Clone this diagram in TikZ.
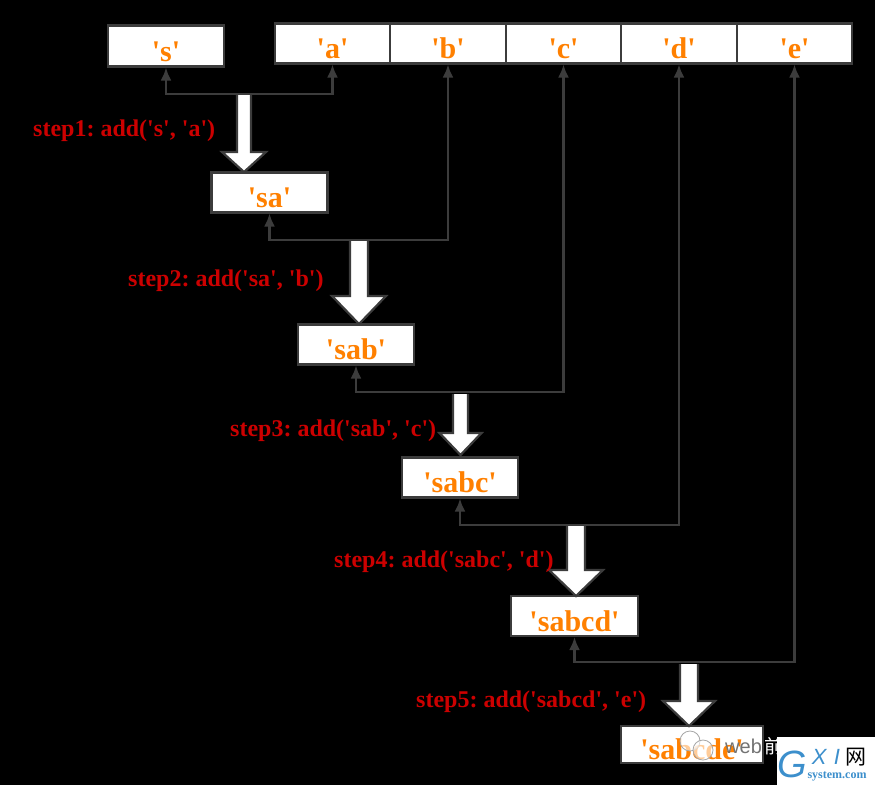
\documentclass[tikz,border=0pt]{standalone}
\usepackage{fontspec}
\usetikzlibrary{arrows.meta}
\newfontfamily\boxfont{Liberation Serif}
\newfontfamily\markfont{Liberation Sans}
\newfontfamily\cjk{Noto Sans CJK SC}
\definecolor{boxorange}{HTML}{FF8000}
\definecolor{stepred}{HTML}{CC0000}
\definecolor{linegray}{HTML}{3C3C3C}
\definecolor{logoblue}{HTML}{3C8FCC}
\tikzset{
  strbox/.style={draw=linegray,line width=2.2pt,fill=white,text=boxorange,inner sep=0pt,
    text height=32pt,text depth=2pt,
    font=\boxfont\bfseries\fontsize{30}{30}\selectfont},
  steplabel/.style={text=stepred,inner sep=0pt,anchor=west,
    font=\boxfont\bfseries\frenchspacing\fontsize{24}{24}\selectfont},
  link/.style={draw=linegray,line width=2.2pt,-{Latex[length=13pt,width=11pt]}},
  twolink/.style={link,{Latex[length=13pt,width=11pt]}-{Latex[length=13pt,width=11pt]}},
  blockarrow/.style={draw=linegray,line width=2.2pt,fill=white,miter limit=4}
}
\begin{document}
\begin{tikzpicture}[x=1pt,y=-1pt]
  \fill[black] (0,0) rectangle (875,785);
  \useasboundingbox (0,0) rectangle (875,785);
  % top row
  \node[strbox,minimum width=116pt,minimum height=41pt] (s) at (166,46) {'s'};
  \node[strbox,minimum width=115.5pt,minimum height=40pt] (a) at (332.5,43.5) {'a'};
  \node[strbox,minimum width=115.5pt,minimum height=40pt] (b) at (448,43.5) {'b'};
  \node[strbox,minimum width=115.5pt,minimum height=40pt] (c) at (563.5,43.5) {'c'};
  \node[strbox,minimum width=115.5pt,minimum height=40pt] (d) at (679,43.5) {'d'};
  \node[strbox,minimum width=115.5pt,minimum height=40pt] (e) at (794.5,43.5) {'e'};
  % results
  \node[strbox,minimum width=116pt,minimum height=40pt] (sa) at (269.5,192.5) {'sa'};
  \node[strbox,minimum width=116pt,minimum height=40pt] (sab) at (356,344.5) {'sab'};
  \node[strbox,minimum width=116pt,minimum height=40pt] (sabc) at (460,477.5) {'sabc'};
  \node[strbox,minimum width=127pt,minimum height=40pt] (sabcd) at (574.5,616) {'sabcd'};
  \node[strbox,minimum width=142pt,minimum height=37pt] (sabcde) at (692,744.5) {'sabcde'};
  % block arrows: x, top, neck, half shaft, half head, tip
  \foreach \cx/\ytop/\yneck/\sw/\hw/\ytip in {244/94/152/7/22/172,359/241/296/9/27/324,460.5/394/433/7.5/21/455,576/526/570/9/27/596,689/664/701/9/26/726} {
    \draw[blockarrow] (\cx-\sw,\ytop) -- (\cx-\sw,\yneck) -- (\cx-\hw,\yneck) -- (\cx,\ytip)
      -- (\cx+\hw,\yneck) -- (\cx+\sw,\yneck) -- (\cx+\sw,\ytop);
  }
  \coordinate (j1) at (244,94);
  \coordinate (j2) at (359,240);
  \coordinate (j3) at (460,392);
  \coordinate (j4) at (576,525);
  \coordinate (j5) at (689,662);
  \draw[link] (j1) -| (s.south);
  \draw[link] (j1) -| (a.south);
  \draw[twolink] (b.south) |- (j2) -| (sa.south);
  \draw[twolink] (c.south) |- (j3) -| (sab.south);
  \draw[twolink] (d.south) |- (j4) -| (sabc.south);
  \draw[twolink] (e.south) |- (j5) -| (sabcd.south);
  % labels
  \node[steplabel] (l1) at (33,131) {step1: add('s', 'a')};
  \node[steplabel] (l2) at (128,281) {step2: add('sa', 'b')};
  \node[steplabel] (l3) at (230,431) {step3: add('sab', 'c')};
  \node[steplabel] (l4) at (334,562) {step4: add('sabc', 'd')};
  \node[steplabel] (l5) at (416,702) {step5: add('sabcd', 'e')};
  % watermark
  \draw[gray!70,fill=white,fill opacity=.6,line width=.8pt] (690,741) circle (10);
  \draw[gray!70,fill=white,fill opacity=.6,line width=.8pt] (703,750) circle (10);
  \node[text=black!55,inner sep=0pt,anchor=base west,font=\markfont\fontsize{20}{20}\selectfont] (wm) at (725,753) {web};
  \node[text=white,inner sep=0pt,anchor=base west,font=\cjk\fontsize{19}{19}\selectfont] (wmcn) at (764,753) {前端开发};
  \node[fill=white,minimum width=98pt,minimum height=48pt,inner sep=0pt] (logo) at (826,761) {};
  \node[text=black,inner sep=0pt,font=\cjk\fontsize{21}{21}\selectfont] (wang) at (856,757) {网};
  \node[text=logoblue,inner sep=0pt,font=\markfont\itshape\fontsize{38}{38}\selectfont] (gx) at (792,764) {G};
  \node[text=logoblue,inner sep=0pt,font=\markfont\itshape\fontsize{22}{22}\selectfont] (xi) at (826,757) {X\,\,I};
  \node[text=logoblue,inner sep=0pt,font=\boxfont\bfseries\fontsize{12}{12}\selectfont] (sys) at (837,776) {system.com};
\end{tikzpicture}
\end{document}
